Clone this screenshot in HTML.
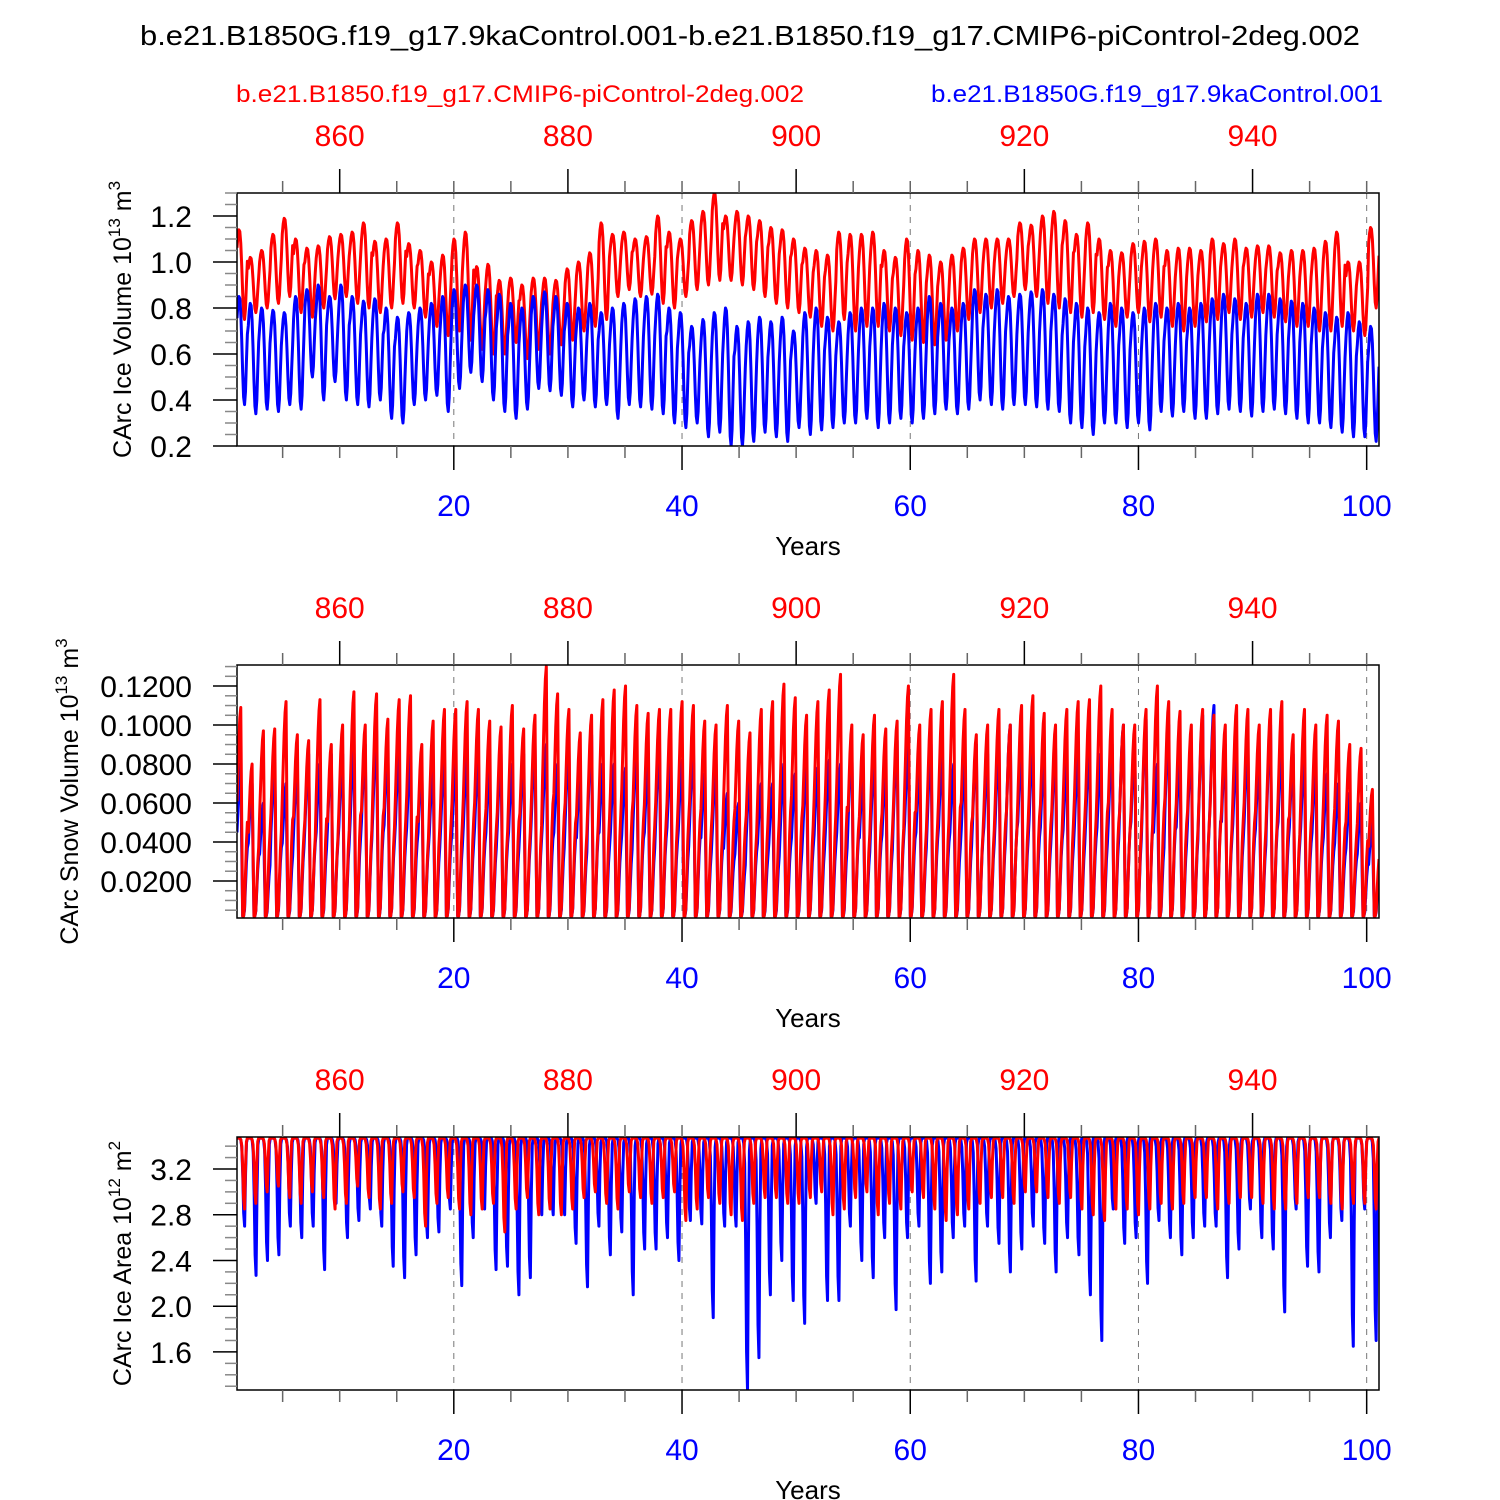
<!DOCTYPE html>
<html><head><meta charset="utf-8"><style>
html,body{margin:0;padding:0;background:#fff;}
svg{display:block;font-family:"Liberation Sans",Arial,sans-serif;}
</style></head><body>
<svg id="chart" width="1500" height="1500" viewBox="0 0 1500 1500">
<text x="750" y="45" font-size="28" text-anchor="middle" textLength="1220" lengthAdjust="spacingAndGlyphs">b.e21.B1850G.f19_g17.9kaControl.001-b.e21.B1850.f19_g17.CMIP6-piControl-2deg.002</text>
<text x="520" y="102" font-size="24" fill="#ff0000" text-anchor="middle" textLength="568" lengthAdjust="spacingAndGlyphs">b.e21.B1850.f19_g17.CMIP6-piControl-2deg.002</text>
<text x="1157" y="102" font-size="24" fill="#0000ff" text-anchor="middle" textLength="452" lengthAdjust="spacingAndGlyphs">b.e21.B1850G.f19_g17.9kaControl.001</text>
</svg>
<script>
// ---- data: per-year annual maxima / minima (years 1..101) ----
const volBlueMax=[0.85,0.82,0.8,0.79,0.78,0.85,0.88,0.9,0.85,0.9,0.85,0.83,0.84,0.8,0.76,0.78,0.8,0.82,0.85,0.88,0.9,0.9,0.88,0.86,0.82,0.8,0.85,0.87,0.85,0.82,0.8,0.82,0.78,0.8,0.82,0.84,0.85,0.86,0.8,0.78,0.72,0.75,0.78,0.8,0.72,0.74,0.76,0.74,0.76,0.7,0.78,0.8,0.76,0.74,0.78,0.8,0.8,0.82,0.8,0.78,0.8,0.85,0.82,0.8,0.82,0.88,0.86,0.88,0.85,0.86,0.87,0.88,0.86,0.84,0.82,0.8,0.78,0.82,0.8,0.78,0.8,0.82,0.8,0.82,0.8,0.82,0.84,0.86,0.84,0.82,0.86,0.86,0.84,0.83,0.82,0.8,0.78,0.76,0.78,0.74,0.72];
const volBlueMin=[0.38,0.34,0.36,0.35,0.38,0.36,0.5,0.4,0.48,0.4,0.38,0.37,0.4,0.32,0.3,0.38,0.4,0.42,0.35,0.45,0.52,0.48,0.4,0.35,0.32,0.36,0.45,0.44,0.42,0.37,0.4,0.37,0.38,0.32,0.38,0.37,0.36,0.34,0.3,0.28,0.3,0.24,0.26,0.2,0.2,0.22,0.26,0.24,0.22,0.28,0.25,0.27,0.28,0.3,0.3,0.32,0.28,0.3,0.32,0.3,0.32,0.34,0.36,0.34,0.36,0.4,0.38,0.36,0.38,0.38,0.37,0.36,0.35,0.3,0.28,0.25,0.3,0.3,0.28,0.3,0.27,0.35,0.33,0.35,0.32,0.32,0.34,0.36,0.35,0.33,0.35,0.36,0.34,0.32,0.3,0.3,0.28,0.26,0.24,0.24,0.22];
const volRedMax=[1.14,1.02,1.05,1.12,1.19,1.1,1.06,1.07,1.11,1.12,1.13,1.17,1.09,1.1,1.17,1.08,1.05,1.0,1.03,1.1,1.13,0.98,0.99,0.92,0.93,0.9,0.93,0.93,0.92,0.97,1.0,1.04,1.17,1.12,1.13,1.1,1.11,1.2,1.13,1.1,1.18,1.22,1.3,1.2,1.22,1.2,1.18,1.15,1.14,1.1,1.06,1.05,1.03,1.13,1.12,1.12,1.13,1.05,1.02,1.1,1.05,1.03,1.0,1.03,1.06,1.1,1.1,1.1,1.1,1.17,1.16,1.2,1.22,1.18,1.12,1.17,1.1,1.05,1.04,1.08,1.09,1.1,1.05,1.06,1.06,1.05,1.1,1.08,1.1,1.06,1.07,1.07,1.04,1.05,1.05,1.06,1.09,1.13,1.0,1.0,1.15];
const volRedMin=[0.75,0.78,0.8,0.82,0.85,0.78,0.76,0.8,0.84,0.85,0.82,0.8,0.78,0.8,0.82,0.8,0.76,0.72,0.68,0.7,0.66,0.62,0.6,0.6,0.65,0.58,0.62,0.6,0.64,0.66,0.7,0.72,0.75,0.85,0.88,0.85,0.86,0.82,0.8,0.85,0.88,0.9,0.92,0.92,0.9,0.88,0.85,0.82,0.8,0.78,0.76,0.72,0.7,0.75,0.7,0.72,0.72,0.7,0.68,0.66,0.65,0.64,0.66,0.7,0.75,0.78,0.8,0.82,0.85,0.88,0.85,0.82,0.8,0.78,0.76,0.78,0.75,0.72,0.76,0.78,0.74,0.76,0.72,0.7,0.72,0.74,0.75,0.78,0.75,0.76,0.78,0.76,0.74,0.72,0.72,0.7,0.7,0.72,0.7,0.68,0.8];
const snowRedMax=[0.109,0.08,0.097,0.098,0.112,0.095,0.092,0.113,0.09,0.1,0.117,0.1,0.116,0.103,0.113,0.115,0.09,0.102,0.108,0.108,0.112,0.108,0.102,0.099,0.11,0.098,0.105,0.13,0.116,0.108,0.096,0.105,0.113,0.118,0.12,0.11,0.106,0.108,0.108,0.112,0.11,0.102,0.1,0.11,0.102,0.096,0.108,0.112,0.121,0.114,0.105,0.112,0.118,0.126,0.1,0.095,0.105,0.098,0.102,0.12,0.1,0.108,0.112,0.126,0.108,0.095,0.1,0.108,0.1,0.11,0.115,0.106,0.1,0.108,0.112,0.113,0.12,0.108,0.1,0.1,0.108,0.12,0.112,0.107,0.1,0.108,0.105,0.1,0.11,0.108,0.1,0.108,0.112,0.095,0.108,0.1,0.105,0.102,0.09,0.088,0.067];
const snowBlueMax=[0.08,0.07,0.06,0.08,0.07,0.08,0.085,0.08,0.085,0.085,0.09,0.09,0.097,0.087,0.088,0.085,0.08,0.08,0.085,0.082,0.085,0.085,0.08,0.085,0.08,0.085,0.09,0.09,0.08,0.09,0.075,0.095,0.08,0.08,0.078,0.09,0.08,0.09,0.085,0.082,0.09,0.075,0.08,0.065,0.06,0.075,0.07,0.07,0.08,0.075,0.08,0.078,0.082,0.08,0.09,0.075,0.085,0.078,0.092,0.09,0.08,0.09,0.086,0.08,0.082,0.09,0.085,0.09,0.1,0.09,0.092,0.085,0.088,0.082,0.085,0.09,0.085,0.09,0.1,0.09,0.103,0.08,0.1,0.085,0.09,0.105,0.11,0.09,0.088,0.09,0.083,0.1,0.09,0.085,0.085,0.08,0.075,0.07,0.065,0.06,0.05];
const snowMinLevel=0.002;
const areaRedMin=[2.85,2.9,3.0,3.05,2.95,2.9,3.0,2.95,2.85,2.9,3.05,2.95,2.85,2.9,3.0,2.95,2.7,2.9,2.95,2.85,2.8,2.85,2.9,2.65,2.85,2.95,2.8,2.85,2.8,2.85,2.95,3.0,2.9,2.85,3.0,2.95,2.9,2.95,3.0,2.75,2.85,2.95,2.9,2.8,2.75,2.9,2.95,2.95,2.9,2.9,2.95,3.0,2.8,2.85,2.95,3.0,2.8,2.9,2.85,3.0,2.95,2.85,2.75,2.8,2.85,2.9,2.95,2.95,2.9,3.0,3.0,2.95,2.9,2.95,2.85,2.8,2.75,2.85,2.85,2.8,2.85,2.9,2.85,2.9,2.95,2.95,2.85,2.9,2.95,2.95,2.9,2.85,2.85,2.9,2.95,2.95,2.9,2.85,2.9,2.9,2.85];
const areaBlueMin=[2.7,2.27,2.4,2.45,2.7,2.6,2.7,2.32,2.9,2.6,2.75,2.85,2.7,2.35,2.25,2.45,2.6,2.65,2.85,2.18,2.6,2.85,2.32,2.35,2.1,2.25,2.8,2.8,2.8,2.55,2.17,2.7,2.45,2.65,2.1,2.5,2.5,2.6,2.4,2.75,2.72,1.9,2.7,2.7,1.27,1.55,2.1,2.4,2.05,1.85,2.9,2.05,2.05,2.7,2.4,2.25,2.6,1.97,2.6,2.7,2.2,2.3,2.6,2.7,2.22,2.7,2.55,2.3,2.5,2.7,2.55,2.3,2.6,2.45,2.1,1.7,2.85,2.55,2.6,2.2,2.75,2.6,2.45,2.6,2.7,2.7,2.25,2.5,2.85,2.6,2.5,1.95,2.85,2.35,2.3,2.6,2.75,1.65,2.85,1.7];
const areaMaxLevel=3.47;
// seasonal cycle fractions (Jan..Dec)
const volShape=[0.8,0.93,1.0,0.98,0.85,0.6,0.3,0.07,0.0,0.12,0.4,0.65];
const snowShape=[0.55,0.7,0.85,0.95,1.0,0.45,0.0,0.0,0.04,0.2,0.35,0.45];
const areaShape=[1,1,1,1,0.98,0.9,0.6,0.15,0,0.6,0.95,1];
const bottomTicks=[20,40,60,80,100];
const topTicks=[860,880,900,920,940];
const yearOffset=850;

const NS="http://www.w3.org/2000/svg";
const svg=document.getElementById('chart');
function mk(tag,attrs,parent){const e=document.createElementNS(NS,tag);for(const k in attrs)e.setAttribute(k,attrs[k]);(parent||svg).appendChild(e);return e;}

const X0=237,X1=1379,XMIN=1,XMAX=101.08;
function xs(v){return X0+(v-XMIN)/(XMAX-XMIN)*(X1-X0);}

function panel(p){
  const top=p.top,bot=p.top+253;
  function ys(v){return bot-(v-p.ymin)/(p.ymax-p.ymin)*(bot-top);}
  const g=mk('g',{});
  
  
  bottomTicks.forEach(t=>{const l=mk('line',{x1:xs(t),x2:xs(t),y1:top,y2:bot,stroke:'#777','stroke-width':1,'stroke-dasharray':'6,6'},g);
    });
  const clipId='clip-'+p.name;
  const cp=mk('clipPath',{id:clipId},g);mk('rect',{x:X0,y:top,width:X1-X0,height:bot-top},cp);
  p.series.forEach(s=>{
    const n=s.min.length, N=n*12; let d='';
    for(let i=0;i<n;i++)for(let m=0;m<12;m++){
      const mx=Array.isArray(s.max)?s.max[i]:s.max, mn=Array.isArray(s.min)?s.min[i]:s.min;
      const v=mn+(mx-mn)*s.shape[m];
      const k=i*12+m; const xv=XMIN+k*(XMAX-XMIN)/(N-1);
      d+=(k?'L':'M')+xs(xv).toFixed(2)+','+ys(v).toFixed(2);
    }
    const path=mk('path',{d:d,fill:'none',stroke:s.color,'stroke-width':3,'stroke-linejoin':'round','clip-path':'url(#'+clipId+')'},g);
    
    
  });
  const fr=mk('rect',{x:X0,y:top,width:X1-X0,height:bot-top,fill:'none',stroke:'#000','stroke-width':1.5},g);
  
  for(let t=5;t<=100;t+=5){const maj=t%20===0;mk('line',{x1:xs(t),x2:xs(t),y1:bot,y2:bot+(maj?24:12),stroke:maj?'#000':'#666','stroke-width':1.5},g);}
  bottomTicks.forEach(t=>{const tx=mk('text',{x:xs(t),y:bot+70,'font-size':30,fill:'#0000ff','text-anchor':'middle'},g);tx.textContent=t;
    });
  for(let t=855;t<=950;t+=5){const xv=t-yearOffset;if(xv<XMIN||xv>XMAX)continue;const maj=t%20===0;mk('line',{x1:xs(xv),x2:xs(xv),y1:top,y2:top-(maj?24:12),stroke:maj?'#000':'#666','stroke-width':1.5},g);}
  topTicks.forEach(t=>{const tx=mk('text',{x:xs(t-yearOffset),y:top-47,'font-size':30,fill:'#ff0000','text-anchor':'middle'},g);tx.textContent=t;
    });
  const xt=mk('text',{x:808,y:bot+109,'font-size':26,'text-anchor':'middle'},g);xt.textContent='Years';
  
  for(let v=p.ymin0;v<=p.ymax+1e-9;v+=p.minor){const y=ys(v);if(y<top-0.5)continue;
    const isMaj=Math.abs((v-p.major0)/p.major-Math.round((v-p.major0)/p.major))<1e-6;
    mk('line',{x1:X0,x2:X0-(isMaj?24:12),y1:y,y2:y,stroke:isMaj?'#000':'#888','stroke-width':1.5},g);}
  p.labels.forEach(v=>{const tx=mk('text',{x:192,y:ys(v)+11,'font-size':30,'text-anchor':'end'},g);tx.textContent=v.toFixed(p.dec);
    });
  const yt=mk('text',{transform:'translate('+p.ytx+','+((top+bot)/2)+') rotate(-90)','font-size':25,'text-anchor':'middle'},g);
  yt.innerHTML=p.ytitle+' 10<tspan dy="-11" font-size="17">'+p.exp+'</tspan><tspan dy="11"> m</tspan><tspan dy="-11" font-size="17">'+p.unitExp+'</tspan>';
  
}

panel({name:'ice-volume',top:193,ymin:0.2,ymax:1.3,ymin0:0.2,major0:0.2,major:0.2,minor:0.05,labels:[0.2,0.4,0.6,0.8,1.0,1.2],dec:1,
  ytitle:'CArc Ice Volume',exp:'13',unitExp:'3',ytx:131,
  series:[{id:'red',color:'#ff0000',max:volRedMax,min:volRedMin,shape:volShape},{id:'blue',color:'#0000ff',max:volBlueMax,min:volBlueMin,shape:volShape}]});
panel({name:'snow-volume',top:665,ymin:0.001,ymax:0.1308,ymin0:0.005,major0:0.02,major:0.02,minor:0.005,labels:[0.02,0.04,0.06,0.08,0.1,0.12],dec:4,
  ytitle:'CArc Snow Volume',exp:'13',unitExp:'3',ytx:78,
  series:[{id:'blue',color:'#0000ff',max:snowBlueMax,min:snowBlueMax.map(()=>snowMinLevel),shape:snowShape},{id:'red',color:'#ff0000',max:snowRedMax,min:snowRedMax.map(()=>snowMinLevel),shape:snowShape}]});
panel({name:'ice-area',top:1137,ymin:1.267,ymax:3.48,ymin0:1.3,major0:1.6,major:0.4,minor:0.1,labels:[1.6,2.0,2.4,2.8,3.2],dec:1,
  ytitle:'CArc Ice Area',exp:'12',unitExp:'2',ytx:131,
  series:[{id:'blue',color:'#0000ff',max:areaMaxLevel,min:areaBlueMin,shape:areaShape},{id:'red',color:'#ff0000',max:areaMaxLevel,min:areaRedMin,shape:areaShape}]});
</script>
</body></html>
